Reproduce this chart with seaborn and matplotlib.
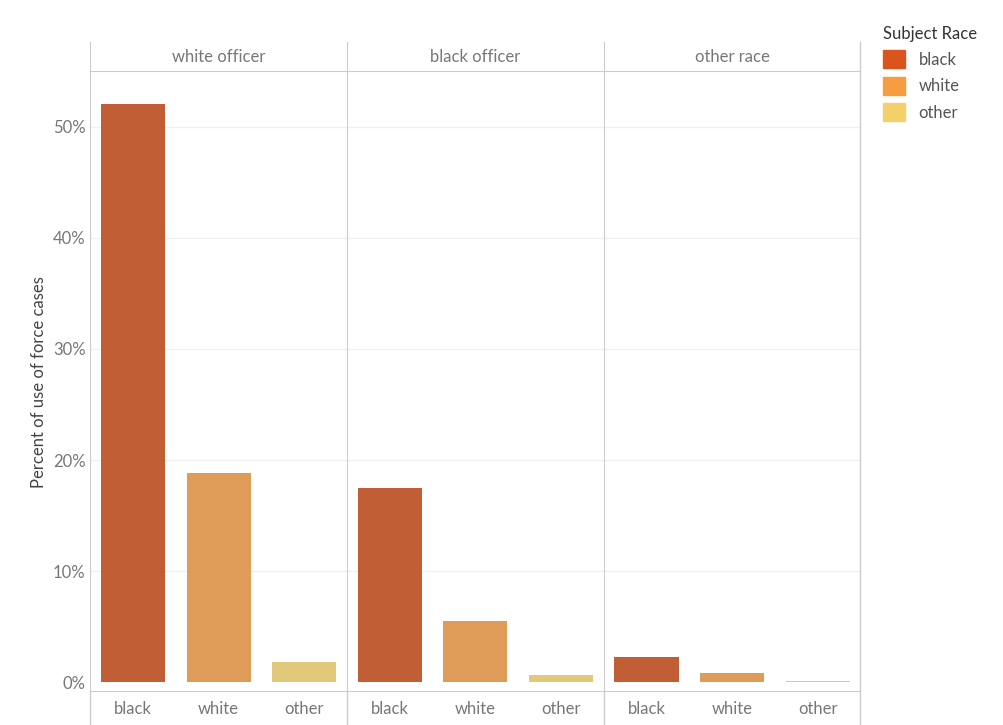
import matplotlib
matplotlib.use("Agg")
import matplotlib.pyplot as plt
import seaborn as sns
import pandas as pd
from matplotlib.patches import Patch

officer_groups = ["white officer", "black officer", "other race"]
subject_races = ["black", "white", "other"]
pct_white_officer = [52.0, 18.8, 1.8]
pct_black_officer = [17.5, 5.5, 0.7]
pct_other_officer = [2.3, 0.8, 0.15]
race_colors = ["#d9541e", "#f69c41", "#f3d069"]

rows = []
for grp, vals in zip(officer_groups, [pct_white_officer, pct_black_officer, pct_other_officer]):
    for race, v in zip(subject_races, vals):
        rows.append({"officer": grp, "subject": race, "pct": v})
df = pd.DataFrame(rows)

plt.rcParams["font.family"] = "Lato"
fig = plt.figure(figsize=(10.04, 7.25), dpi=100)
left, right, bottom, top = 0.09, 0.857, 0.045, 0.942
header = 0.04
w = (right - left) / 3
grid_c = "#cccccc"
text_c = "#777777"

for i, grp in enumerate(officer_groups):
    ax = fig.add_axes([left + i * w, bottom, w, top - bottom - header])
    sub = df[df.officer == grp]
    sns.barplot(data=sub, x="subject", y="pct", hue="subject", palette=race_colors,
                order=subject_races, hue_order=subject_races, legend=False,
                width=0.75, ax=ax)
    ax.set_ylim(-0.9, 55)
    ax.set_xlim(-0.5, 2.5)
    ax.set_xlabel("")
    ax.set_yticks([0, 10, 20, 30, 40, 50])
    for y in [10, 20, 30, 40, 50]:
        ax.axhline(y, color="#f0f0f0", lw=1, zorder=0)
    ax.axhline(-0.9, color=grid_c, lw=1.5)
    for s in ["top", "right", "bottom"]:
        ax.spines[s].set_visible(False)
    ax.spines["left"].set_color(grid_c)
    ax.tick_params(axis="x", length=0, labelsize=12, colors=text_c, pad=6)
    if i == 0:
        ax.set_yticklabels([f"{t}%" for t in [0, 10, 20, 30, 40, 50]])
        ax.tick_params(axis="y", length=0, labelsize=12, colors=text_c)
        ax.set_ylabel("Percent of use of force cases", fontsize=12, color="#444444")
    else:
        ax.set_yticks([])
        ax.set_ylabel("")
    hax = fig.add_axes([left + i * w, top - header, w, header])
    hax.set_xticks([]); hax.set_yticks([])
    for s in ["top", "right"]:
        hax.spines[s].set_visible(False)
    hax.spines["left"].set_color(grid_c)
    hax.spines["bottom"].set_color(grid_c)
    hax.text(0.5, 0.5, grp, ha="center", va="center", fontsize=12, color=text_c)

# right border line spanning full height
fig.add_artist(plt.Line2D([right, right], [0, top], color=grid_c, lw=1))
for i in range(1, 3):
    fig.add_artist(plt.Line2D([left + i * w] * 2, [0, bottom], color=grid_c, lw=1))
fig.add_artist(plt.Line2D([left, left], [0, bottom], color=grid_c, lw=1))

handles = [Patch(color=c, label=r) for c, r in zip(race_colors, subject_races)]
leg = fig.legend(handles=handles, loc="upper left", bbox_to_anchor=(0.865, 0.985),
                 frameon=False, title="Subject Race", fontsize=12, title_fontsize=12,
                 handlelength=1.3, handleheight=1.3, alignment="left")
for t in leg.get_texts():
    t.set_color("#555555")
leg.get_title().set_color("#333333")

fig.savefig("out.png", dpi=100)
